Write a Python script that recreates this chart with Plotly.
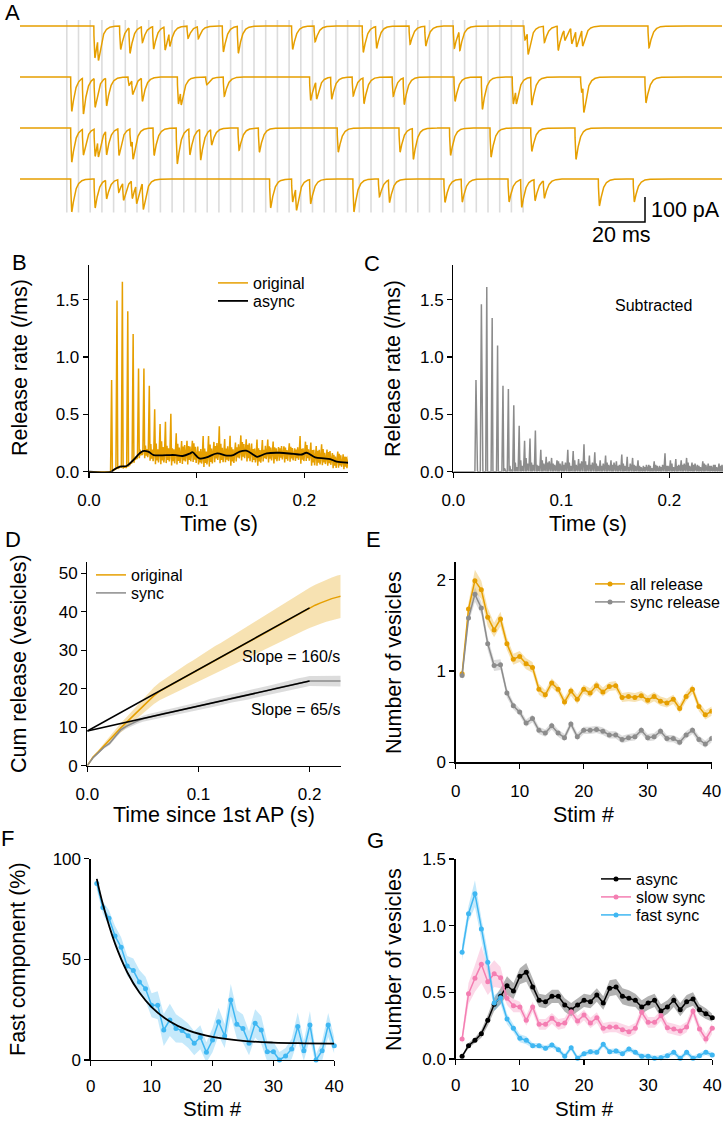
import numpy as np
import plotly.graph_objects as go

W, H = 723, 1121
FONT = "Liberation Sans, Arial, Helvetica, sans-serif"
ORANGE = "#E69F00"
GRAY = "#8C8C8C"
PINK = "#F47EB2"
BLUE = "#3FB7F2"

# ---------------- DATA ----------------
# Panel A: 200 Hz train, stimulus times (ms from trace start)
stim_times_ms = [20, 25, 30, 35, 40, 45, 50, 55, 60, 65, 70, 75, 80, 85, 90, 95, 100, 105, 110, 115,
                 120, 125, 130, 135, 140, 145, 150, 155, 160, 165, 170, 175, 180, 185, 190, 195, 200, 205, 210, 215]
trace_offsets_pA = [-44, -248, -452, -656]
trace_len_ms = 300
# EPSC peak times (ms) and amplitudes (pA) for the four example sweeps
tr1_t = [32.0, 33.6, 43.0, 47.0, 52.3, 57.1, 62.0, 64.1, 71.8, 76.2, 86.9, 93.3, 116.5, 126.1, 146.7, 152.4,
         166.7, 173.4, 185.6, 188.0, 215.8, 217.2, 224.1, 230.0, 232.9, 235.8, 237.9, 240.5, 268.8]
tr1_a = [127, 89, 93, 103, 63, 89, 93, 56, 49, 49, 103, 107, 93, 63, 105, 87,
         73, 79, 89, 79, 56, 89, 65, 96, 43, 63, 65, 65, 87]
tr2_t = [22.1, 27.1, 32.1, 37.0, 46.6, 48.2, 52.3, 67.7, 69.0, 79.8, 87.3, 124.2, 126.8, 133.2, 142.4, 147.0,
         159.5, 164.2, 185.9, 197.6, 210.8, 212.2, 218.7, 240.0, 241.0, 267.5]
tr2_a = [137, 143, 116, 111, 33, 57, 93, 107, 60, 31, 77, 93, 71, 87, 76, 103,
         77, 107, 97, 129, 107, 60, 111, 60, 107, 103]
tr3_t = [22.1, 27.1, 32.1, 33.6, 37.0, 42.3, 47.4, 48.4, 57.3, 67.2, 72.6, 77.2, 81.9, 93.6, 102.3, 136.0,
         162.4, 168.1, 184.0, 201.3, 218.7, 237.6]
tr3_a = [136, 103, 109, 69, 96, 107, 69, 83, 109, 143, 103, 123, 63, 89, 96, 96,
         96, 123, 109, 116, 93, 125]
tr4_t = [22.1, 32.1, 37.0, 42.2, 44.3, 48.0, 49.9, 52.7, 107.1, 116.5, 118.2, 124.2, 142.7, 153.6, 157.9,
         181.6, 189.0, 209.0, 214.4, 220.1, 224.1, 247.6, 262.5]
tr4_a = [131, 115, 75, 51, 71, 71, 75, 107, 115, 91, 93, 97, 131, 71, 90,
         93, 91, 91, 111, 84, 71, 107, 91]
scalebar_ms = 20
scalebar_pA = 100

# Panels B/C: release rate (/ms), 5-ms intervals starting at first stimulus
interval_start_s = 0.020
interval_s = 0.005
sync_peak = [0.80, 1.46, 1.61, 1.34, 1.10, 0.75, 0.72, 0.58, 0.40, 0.27, 0.29, 0.36, 0.19, 0.13, 0.12, 0.10,
             0.09, 0.19, 0.18, 0.11, 0.24, 0.14, 0.17, 0.10, 0.14, 0.10, 0.09, 0.15, 0.13, 0.12, 0.10, 0.05,
             0.06, 0.09, 0.05, 0.16, 0.10, 0.11, 0.10, 0.12, 0.08, 0.06, 0.09, 0.07, 0.06, 0.07]
sync_mid1 = [0, 0, 0, 0, 0, 0.03, 0.05, 0.08, 0.10, 0.12, 0.08, 0.06, 0.10, 0.08, 0.07, 0.09,
             0.06, 0.08, 0.10, 0.07, 0.09, 0.06, 0.07, 0.05, 0.08, 0.06, 0.05, 0.07, 0.04, 0.06, 0.05, 0.04,
             0.05, 0.06, 0.04, 0.05, 0.07, 0.05, 0.06, 0.08, 0.06, 0.05, 0.07, 0.05, 0.06, 0.05]
sync_mid2 = [0, 0, 0, 0, 0, 0, 0.02, 0.04, 0.05, 0.07, 0.06, 0.05, 0.07, 0.09, 0.06, 0.07,
             0.08, 0.05, 0.06, 0.09, 0.06, 0.08, 0.05, 0.07, 0.06, 0.08, 0.06, 0.05, 0.07, 0.05, 0.04, 0.06,
             0.03, 0.05, 0.06, 0.05, 0.04, 0.06, 0.07, 0.05, 0.07, 0.04, 0.06, 0.05, 0.04, 0.06]
orig_dip = [0.0, 0.01, 0.02, 0.02, 0.03, 0.04, 0.06, 0.07, 0.08, 0.08, 0.07, 0.09, 0.08, 0.07, 0.09, 0.08,
            0.06, 0.08, 0.09, 0.07, 0.08, 0.06, 0.09, 0.07, 0.08, 0.09, 0.07, 0.08, 0.06, 0.08, 0.09, 0.07,
            0.08, 0.07, 0.06, 0.08, 0.07, 0.09, 0.07, 0.06, 0.06, 0.07, 0.05, 0.06, 0.05, 0.06]
async_t = [0, 0.021, 0.0226, 0.0288, 0.035, 0.041, 0.047, 0.050, 0.055, 0.060, 0.072, 0.0805, 0.087, 0.094,
           0.096, 0.1025, 0.109, 0.119, 0.128, 0.134, 0.140, 0.146, 0.153, 0.156, 0.165, 0.177, 0.19, 0.1975,
           0.202, 0.21, 0.218, 0.224, 0.23, 0.241, 0.25]
async_v = [0, 0, 0.015, 0.045, 0.05, 0.10, 0.16, 0.18, 0.175, 0.145, 0.145, 0.145, 0.137, 0.16,
           0.17, 0.116, 0.125, 0.16, 0.14, 0.145, 0.175, 0.183, 0.145, 0.13, 0.16, 0.165, 0.155, 0.15,
           0.165, 0.125, 0.116, 0.11, 0.087, 0.078, 0.078]

# Panel D: cumulative release (vesicles) every 5 ms since 1st AP
cum_t = [0.000, 0.005, 0.010, 0.015, 0.020, 0.025, 0.030, 0.035, 0.040, 0.045, 0.050, 0.055, 0.060, 0.065,
         0.070, 0.075, 0.080, 0.085, 0.090, 0.095, 0.100, 0.105, 0.110, 0.115, 0.120, 0.125, 0.130, 0.135,
         0.140, 0.145, 0.150, 0.155, 0.160, 0.165, 0.170, 0.175, 0.180, 0.185, 0.190, 0.195, 0.200, 0.205,
         0.210, 0.215, 0.220, 0.225, 0.228]
cum_orig = [0.0, 2.2, 3.6, 5.2, 6.8, 8.4, 9.8, 11.2, 12.6, 14.0, 15.5, 16.8, 18.2, 19.3,
            20.1, 20.9, 21.8, 22.6, 23.5, 24.2, 25.0, 25.9, 26.6, 27.5, 28.2, 29.0, 29.9, 30.6,
            31.5, 32.2, 33.0, 33.9, 34.6, 35.4, 36.3, 37.0, 37.8, 38.7, 39.4, 40.2, 41.0, 41.7,
            42.3, 42.9, 43.4, 43.8, 44.0]
cum_orig_sem = [0.0, 0.3, 0.5, 0.7, 0.9, 1.0, 1.2, 1.3, 1.5, 1.7, 1.9, 2.0, 2.2, 2.3,
                2.5, 2.6, 2.7, 2.9, 3.0, 3.1, 3.3, 3.4, 3.5, 3.6, 3.7, 3.8, 3.9, 4.0,
                4.1, 4.2, 4.3, 4.4, 4.5, 4.6, 4.7, 4.8, 4.9, 5.0, 5.0, 5.1, 5.2, 5.3,
                5.4, 5.5, 5.5, 5.6, 5.6]
cum_sync = [0.0, 2.0, 3.4, 4.8, 5.8, 7.6, 9.3, 10.2, 11.0, 11.6, 12.2, 12.6, 12.9, 13.2,
            13.6, 13.9, 14.2, 14.5, 14.9, 15.2, 15.5, 15.8, 16.2, 16.5, 16.8, 17.1, 17.5, 17.8,
            18.1, 18.4, 18.8, 19.1, 19.4, 19.7, 20.1, 20.4, 20.7, 21.0, 21.4, 21.7, 22.0, 22.0,
            22.0, 22.0, 22.0, 22.0, 22.0]
cum_sync_sem = [0.0, 0.2, 0.3, 0.4, 0.5, 0.5, 0.6, 0.6, 0.7, 0.7, 0.8, 0.8, 0.8, 0.9,
                0.9, 0.9, 0.9, 1.0, 1.0, 1.0, 1.0, 1.0, 1.1, 1.1, 1.1, 1.1, 1.1, 1.1,
                1.1, 1.2, 1.2, 1.2, 1.2, 1.2, 1.2, 1.2, 1.2, 1.3, 1.3, 1.3, 1.3, 1.3,
                1.3, 1.3, 1.4, 1.4, 1.4]
fit_t = [0.0, 0.2]
fit_orig = [9, 41]
fit_sync = [9, 22]

# Panels E-G: per stimulus
stim = list(range(1, 41))
all_rel = [0.97, 1.68, 1.99, 1.89, 1.59, 1.45, 1.57, 1.30, 1.13, 1.16, 1.08, 1.04, 0.80, 0.74, 0.87, 0.80,
           0.66, 0.78, 0.69, 0.80, 0.76, 0.84, 0.77, 0.83, 0.84, 0.71, 0.72, 0.71, 0.73, 0.68, 0.72, 0.67,
           0.65, 0.69, 0.59, 0.72, 0.80, 0.61, 0.52, 0.56]
all_rel_sem = [0.05, 0.07, 0.12, 0.10, 0.10, 0.08, 0.08, 0.07, 0.06, 0.06, 0.06, 0.06, 0.06, 0.05, 0.05, 0.05,
               0.05, 0.05, 0.05, 0.05, 0.05, 0.05, 0.05, 0.05, 0.05, 0.05, 0.05, 0.05, 0.05, 0.05, 0.05, 0.05,
               0.05, 0.05, 0.05, 0.05, 0.05, 0.05, 0.05, 0.05]
sync_rel = [0.95, 1.58, 1.84, 1.69, 1.30, 1.06, 1.07, 0.76, 0.62, 0.55, 0.43, 0.48, 0.35, 0.32, 0.40, 0.32,
            0.27, 0.42, 0.28, 0.35, 0.35, 0.36, 0.34, 0.30, 0.30, 0.25, 0.27, 0.28, 0.35, 0.27, 0.28, 0.34,
            0.26, 0.26, 0.22, 0.30, 0.35, 0.25, 0.20, 0.26]
sync_rel_sem = [0.06, 0.06, 0.08, 0.07, 0.07, 0.06, 0.06, 0.05, 0.04, 0.04, 0.04, 0.04, 0.04, 0.04, 0.04, 0.04,
                0.04, 0.04, 0.04, 0.04, 0.04, 0.04, 0.04, 0.04, 0.04, 0.04, 0.04, 0.04, 0.04, 0.04, 0.04, 0.04,
                0.04, 0.04, 0.04, 0.04, 0.04, 0.04, 0.04, 0.04]
fast_pct = [87.7, 75.7, 70.4, 61.6, 56.0, 46.7, 44.4, 38.7, 35.4, 27.2, 27.2, 14.9, 19.9, 15.7, 14.6, 12.1,
            8.3, 11.3, 3.8, 9.9, 19.0, 11.9, 29.8, 17.7, 15.6, 8.3, 18.2, 14.9, 4.1, 4.1, 0.0, 2.0,
            5.5, 16.6, 4.6, 17.4, 0.0, 4.6, 17.4, 7.1]
fast_pct_sem = [3, 3, 4, 5, 5, 5, 6, 6, 6, 6, 7, 8, 8, 7, 6, 6,
                6, 6, 5, 6, 7, 6, 8, 7, 7, 6, 7, 7, 5, 5, 4, 4,
                5, 7, 5, 7, 3, 5, 6, 4]
exp_fit_stim = [1, 2, 4, 6, 8, 10, 13, 16, 20, 25, 30, 35, 40]
exp_fit_val = [90, 77.4, 57.8, 43.6, 33.5, 26.3, 19.1, 14.7, 11.5, 9.5, 8.65, 8.3, 8.1]
async_n = [0.02, 0.10, 0.14, 0.19, 0.29, 0.41, 0.47, 0.55, 0.51, 0.62, 0.65, 0.54, 0.44, 0.43, 0.47, 0.47,
           0.405, 0.37, 0.405, 0.44, 0.43, 0.48, 0.42, 0.53, 0.54, 0.47, 0.455, 0.44, 0.39, 0.42, 0.44, 0.36,
           0.39, 0.44, 0.37, 0.43, 0.45, 0.37, 0.34, 0.31]
async_n_sem = [0.01, 0.02, 0.02, 0.03, 0.04, 0.05, 0.06, 0.07, 0.06, 0.06, 0.07, 0.06, 0.05, 0.05, 0.05, 0.05,
               0.05, 0.05, 0.05, 0.05, 0.05, 0.05, 0.05, 0.06, 0.06, 0.06, 0.06, 0.05, 0.05, 0.05, 0.05, 0.05,
               0.05, 0.05, 0.05, 0.05, 0.05, 0.04, 0.04, 0.03]
slow_n = [0.15, 0.49, 0.605, 0.71, 0.58, 0.64, 0.61, 0.455, 0.40, 0.39, 0.29, 0.39, 0.26, 0.26, 0.305, 0.26,
          0.27, 0.355, 0.285, 0.33, 0.27, 0.31, 0.23, 0.24, 0.24, 0.22, 0.205, 0.23, 0.35, 0.275, 0.275, 0.325,
          0.235, 0.225, 0.21, 0.24, 0.36, 0.225, 0.15, 0.23]
slow_n_sem = [0.04, 0.08, 0.10, 0.14, 0.10, 0.10, 0.08, 0.05, 0.05, 0.04, 0.04, 0.04, 0.04, 0.04, 0.04, 0.04,
              0.04, 0.04, 0.04, 0.04, 0.04, 0.04, 0.04, 0.04, 0.04, 0.04, 0.04, 0.04, 0.04, 0.04, 0.04, 0.04,
              0.04, 0.04, 0.04, 0.04, 0.04, 0.04, 0.04, 0.04]
fast_n = [0.80, 1.09, 1.24, 0.975, 0.725, 0.42, 0.46, 0.30, 0.23, 0.155, 0.14, 0.10, 0.10, 0.08, 0.105, 0.07,
          0.02, 0.085, 0.005, 0.04, 0.055, 0.05, 0.11, 0.055, 0.06, 0.04, 0.075, 0.05, 0.02, 0.02, 0.005, 0.01,
          0.025, 0.05, 0.005, 0.05, 0.005, 0.025, 0.05, 0.03]
fast_n_sem = [0.06, 0.06, 0.10, 0.08, 0.08, 0.06, 0.05, 0.04, 0.03, 0.03, 0.03, 0.02, 0.02, 0.02, 0.02, 0.02,
              0.02, 0.02, 0.02, 0.02, 0.02, 0.02, 0.02, 0.02, 0.02, 0.02, 0.02, 0.02, 0.02, 0.02, 0.02, 0.02,
              0.02, 0.02, 0.02, 0.02, 0.02, 0.02, 0.02, 0.02]

# ---------------- helpers ----------------
def xp(px):
    return px / W

def yp(py):
    return 1 - py / H

def band(x, m, s, color, xa, ya):
    x = list(x)
    up = [a + b for a, b in zip(m, s)]
    lo = [a - b for a, b in zip(m, s)]
    return go.Scatter(x=x + x[::-1], y=up + lo[::-1], fill="toself", fillcolor=color,
                      line=dict(width=0), hoverinfo="skip", showlegend=False, xaxis=xa, yaxis=ya)

fig = go.Figure()

# ---------------- Panel A ----------------
dt = 0.05
tg = np.arange(0, trace_len_ms + dt, dt)
tau_r, tau_d = 0.2, 1.4
kt = np.arange(0, 15, dt)
kern = np.exp(-kt / tau_d) - np.exp(-kt / tau_r)
tpk = kt[np.argmax(kern)]
kern = kern / kern.max()

sb_y0 = -828
gx, gy = [], []
for s in stim_times_ms:
    gx += [s, s, None]
    gy += [-20, -790, None]
fig.add_trace(go.Scatter(x=gx, y=gy, mode="lines", line=dict(color="#DCDCDC", width=1.6),
                         showlegend=False, hoverinfo="skip", xaxis="x", yaxis="y"))
for off, ts, amps in zip(trace_offsets_pA, [tr1_t, tr2_t, tr3_t, tr4_t], [tr1_a, tr2_a, tr3_a, tr4_a]):
    y = np.zeros_like(tg)
    for t0, a in zip(ts, amps):
        i0 = int(round((t0 - tpk) / dt))
        n = min(len(kern), len(tg) - i0)
        y[i0:i0 + n] -= a * kern[:n]
    fig.add_trace(go.Scatter(x=tg, y=y + off, mode="lines", line=dict(color=ORANGE, width=1.5),
                             showlegend=False, hoverinfo="skip", xaxis="x", yaxis="y"))
sb_x1 = 267.1
fig.add_trace(go.Scatter(x=[sb_x1 - scalebar_ms, sb_x1, sb_x1], y=[sb_y0, sb_y0, sb_y0 + scalebar_pA],
                         mode="lines", line=dict(color="black", width=1.5), showlegend=False,
                         hoverinfo="skip", xaxis="x", yaxis="y"))

# ---------------- Panels B / C ----------------
offs = [0.0, 0.0010, 0.0017, 0.0024, 0.0031, 0.0038, 0.0045]
bx, by, cx, cy = [0.0, interval_start_s], [0.0, 0.0], [0.0, interval_start_s], [0.0, 0.0]
for k in range(len(sync_peak)):
    s0 = interval_start_s + k * interval_s
    ts = [s0 + o for o in offs]
    a = np.interp(ts, async_t, async_v)
    d = orig_dip[k]
    gv = [0, sync_peak[k], 0, sync_mid1[k], 0, sync_mid2[k], 0]
    ov = [a[0] - 0.3 * d, a[1] + sync_peak[k], a[2] - d, a[3] + sync_mid1[k], a[4] - 0.6 * d,
          a[5] + sync_mid2[k], a[6] - 0.8 * d]
    cx += ts
    cy += gv
    bx += ts
    by += ov
fig.add_trace(go.Scatter(x=bx, y=by, mode="lines", line=dict(color=ORANGE, width=1.5), name="original",
                         legend="legend", xaxis="x2", yaxis="y2"))
fig.add_trace(go.Scatter(x=async_t, y=async_v, mode="lines", line=dict(color="black", width=1.8, shape="spline"),
                         name="async", legend="legend2", xaxis="x2", yaxis="y2"))
fig.add_trace(go.Scatter(x=cx, y=cy, mode="lines", line=dict(color=GRAY, width=1.5), showlegend=False,
                         xaxis="x3", yaxis="y3"))

# ---------------- Panel D ----------------
fig.add_trace(band(cum_t, cum_orig, cum_orig_sem, "rgba(230,159,0,0.3)", "x4", "y4"))
fig.add_trace(band(cum_t, cum_sync, cum_sync_sem, "rgba(140,140,140,0.3)", "x4", "y4"))
fig.add_trace(go.Scatter(x=cum_t, y=cum_orig, mode="lines", line=dict(color=ORANGE, width=1.5),
                         name="original", legend="legend3", xaxis="x4", yaxis="y4"))
fig.add_trace(go.Scatter(x=cum_t, y=cum_sync, mode="lines", line=dict(color=GRAY, width=1.5),
                         name="sync", legend="legend4", xaxis="x4", yaxis="y4"))
fig.add_trace(go.Scatter(x=fit_t, y=fit_orig, mode="lines", line=dict(color="black", width=1.6),
                         showlegend=False, xaxis="x4", yaxis="y4"))
fig.add_trace(go.Scatter(x=fit_t, y=fit_sync, mode="lines", line=dict(color="black", width=1.6),
                         showlegend=False, xaxis="x4", yaxis="y4"))

# ---------------- Panel E ----------------
fig.add_trace(band(stim, all_rel, all_rel_sem, "rgba(230,159,0,0.3)", "x5", "y5"))
fig.add_trace(band(stim, sync_rel, sync_rel_sem, "rgba(140,140,140,0.3)", "x5", "y5"))
fig.add_trace(go.Scatter(x=stim, y=all_rel, mode="lines+markers", line=dict(color=ORANGE, width=1.5),
                         marker=dict(size=5, color=ORANGE), name="all release", legend="legend5",
                         xaxis="x5", yaxis="y5"))
fig.add_trace(go.Scatter(x=stim, y=sync_rel, mode="lines+markers", line=dict(color=GRAY, width=1.5),
                         marker=dict(size=5, color=GRAY), name="sync release", legend="legend6",
                         xaxis="x5", yaxis="y5"))

# ---------------- Panel F ----------------
fig.add_trace(band(stim, fast_pct, fast_pct_sem, "rgba(63,183,242,0.3)", "x6", "y6"))
fig.add_trace(go.Scatter(x=stim, y=fast_pct, mode="lines+markers", line=dict(color=BLUE, width=1.5),
                         marker=dict(size=5, color=BLUE), showlegend=False, cliponaxis=False,
                         xaxis="x6", yaxis="y6"))
fig.add_trace(go.Scatter(x=exp_fit_stim, y=exp_fit_val, mode="lines",
                         line=dict(color="black", width=1.8, shape="spline"), showlegend=False,
                         xaxis="x6", yaxis="y6"))

# ---------------- Panel G ----------------
fig.add_trace(band(stim, async_n, async_n_sem, "rgba(0,0,0,0.3)", "x7", "y7"))
fig.add_trace(band(stim, slow_n, slow_n_sem, "rgba(244,126,178,0.3)", "x7", "y7"))
fig.add_trace(band(stim, fast_n, fast_n_sem, "rgba(63,183,242,0.3)", "x7", "y7"))
for yv, col, nm, lg in [(async_n, "black", "async", "legend7"), (slow_n, PINK, "slow sync", "legend8"),
                        (fast_n, BLUE, "fast sync", "legend9")]:
    fig.add_trace(go.Scatter(x=stim, y=yv, mode="lines+markers", line=dict(color=col, width=1.5),
                             marker=dict(size=5, color=col), name=nm, legend=lg, cliponaxis=False,
                             xaxis="x7", yaxis="y7"))

# ---------------- Layout ----------------
tickfont = dict(family=FONT, size=17, color="black")

def xax(dom, rng, tv, tt, anchor, standoff=8):
    return dict(domain=[xp(dom[0]), xp(dom[1])], range=rng, tickvals=tv, ticktext=tt, anchor=anchor,
                showline=True, linecolor="black", linewidth=1.3, ticks="outside", ticklen=5, tickwidth=1.3,
                tickcolor="black", showgrid=False, zeroline=False, tickfont=tickfont, ticklabelstandoff=standoff,
                fixedrange=True, automargin=False)

def yax(dom, rng, tv, tt, anchor):
    return dict(domain=[yp(dom[1]), yp(dom[0])], range=rng, tickvals=tv, ticktext=tt, anchor=anchor,
                showline=True, linecolor="black", linewidth=1.3, ticks="outside", ticklen=5, tickwidth=1.3,
                tickcolor="black", showgrid=False, zeroline=False, tickfont=tickfont, fixedrange=True,
                automargin=False)

rate_tv = [0, 0.5, 1.0, 1.5]
rate_tt = ["0.0", "0.5", "1.0", "1.5"]
time_tv = [0, 0.1, 0.2]
time_tt = ["0.0", "0.1", "0.2"]
stim_tv = [0, 10, 20, 30, 40]
stim_tt = ["0", "10", "20", "30", "40"]

layout = dict(
    width=W, height=H, margin=dict(l=0, r=0, t=0, b=0, autoexpand=False),
    paper_bgcolor="white", plot_bgcolor="rgba(0,0,0,0)",
    font=dict(family=FONT, color="black"),
    xaxis=dict(domain=[xp(20), xp(722)], range=[0, trace_len_ms], visible=False, anchor="y", automargin=False),
    yaxis=dict(domain=[yp(240), yp(15)], range=[-900, 0], visible=False, anchor="x", automargin=False),
    xaxis2=xax((89, 348), [0, 0.2405], time_tv, time_tt, "y2"),
    yaxis2=yax((265.2, 471.7), [0, 1.8], rate_tv, rate_tt, "x2"),
    xaxis3=xax((453.3, 723), [0, 0.2497], time_tv, time_tt, "y3"),
    yaxis3=yax((265.2, 471.7), [0, 1.8], rate_tv, rate_tt, "x3"),
    xaxis4=xax((87.3, 340.7), [0, 0.228], time_tv, time_tt, "y4"),
    yaxis4=yax((561.7, 765.7), [0, 53], [0, 10, 20, 30, 40, 50], ["0", "10", "20", "30", "40", "50"], "x4"),
    xaxis5=xax((455.7, 711.7), [0, 40], stim_tv, stim_tt, "y5"),
    yaxis5=yax((561.5, 762.3), [0, 2.2], [0, 1, 2], ["0", "1", "2"], "x5"),
    xaxis6=xax((90.7, 334.3), [0, 40], stim_tv, stim_tt, "y6", standoff=5),
    yaxis6=yax((858.7, 1060), [0, 100], [0, 50, 100], ["0", "50", "100"], "x6"),
    xaxis7=xax((455.7, 712.3), [0, 40], stim_tv, stim_tt, "y7", standoff=5),
    yaxis7=yax((859, 1059), [0, 1.5], rate_tv, rate_tt, "x7"),
)
leg = dict(xanchor="left", yanchor="top", bgcolor="rgba(0,0,0,0)", borderwidth=0,
           font=dict(family=FONT, size=16, color="black"), tracegroupgap=0, itemwidth=30)
# one legend box per entry, placed at each entry's row (row centre = top + 17 px)
legend_pos = {"legend": (213, 283), "legend2": (213, 301),
              "legend3": (91, 575), "legend4": (91, 593),
              "legend5": (590, 584), "legend6": (590, 602),
              "legend7": (596, 879), "legend8": (596, 897), "legend9": (596, 915)}
for name, (lx, ly) in legend_pos.items():
    layout[name] = dict(leg, x=xp(lx), y=yp(ly - 17))
fig.update_layout(**layout)

anns = []
def txt(s, x, y, size, xanchor="center", angle=0):
    anns.append(dict(text=s, x=xp(x), y=yp(y), xref="paper", yref="paper", showarrow=False,
                     xanchor=xanchor, yanchor="middle", textangle=angle,
                     font=dict(family=FONT, size=size, color="black")))

TS = 21.5
for L, x, y in [("A", 12, 13), ("B", 19, 262), ("C", 372, 263), ("D", 13, 540), ("E", 373, 540),
                ("F", 7, 838), ("G", 375, 840)]:
    txt(L, x, y, 22)
txt("Release rate (/ms)", 20, 368, TS, angle=-90)
txt("Release rate (/ms)", 393, 368, TS, angle=-90)
txt("Time (s)", 218.5, 524, TS)
txt("Time (s)", 588, 524, TS)
txt("Cum release (vesicles)", 19, 664, TS, angle=-90)
txt("Time since 1st AP (s)", 214, 815, TS)
txt("Number of vesicles", 394, 662, TS, angle=-90)
txt("Stim #", 583.7, 815, TS)
txt("Fast component (%)", 18, 959, TS, angle=-90)
txt("Stim #", 212.5, 1108, 20.5)
txt("Number of vesicles", 394, 959, TS, angle=-90)
txt("Stim #", 584, 1108, 20.5)
txt("Subtracted", 653.5, 305, 16)
txt("Slope = 160/s", 342, 656, 16, xanchor="right")
txt("Slope = 65/s", 342, 709, 16, xanchor="right")
txt("100 pA", 649, 210, TS, xanchor="left")
txt("20 ms", 621, 235, TS)
fig.update_layout(annotations=anns)

fig.write_html("out.html", config={"displayModeBar": False, "staticPlot": True},
               post_script="document.body.style.margin='0px';")
